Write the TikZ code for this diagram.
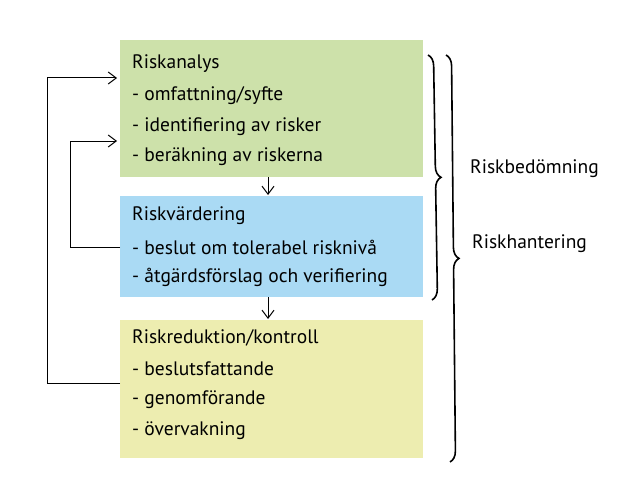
\documentclass[tikz,border=0pt]{standalone}
\usepackage{fontspec}
\setmainfont{PT Sans}
\usetikzlibrary{decorations.pathreplacing,arrows.meta}
\definecolor{cg}{RGB}{205,225,170}
\definecolor{cb}{RGB}{170,218,244}
\definecolor{cy}{RGB}{237,237,176}
\begin{document}
\begin{tikzpicture}[x=1pt,y=-1pt,
  box/.style={draw=none,anchor=north west,minimum width=303pt,inner sep=0},
  txt/.style={anchor=west,font=\fontsize{19.5}{22}\selectfont,inner sep=0},
  arr/.style={-{Straight Barb[length=8pt,width=12pt]},line width=1pt},
  br/.style={decorate,decoration={brace,amplitude=11pt,raise=0pt},line width=1.6pt}]
\useasboundingbox (0,0) rectangle (640,487);
\node[box,fill=cg,minimum height=137pt] (b1) at (120,40) {};
\node[box,fill=cb,minimum height=101pt] (b2) at (120,196) {};
\node[box,fill=cy,minimum height=138pt] (b3) at (120,320) {};
\node[txt] (t11) at (132,64) {Riskanalys};
\node[txt] (t12) at (132,96) {- omfattning/syfte};
\node[txt] (t13) at (132,127) {- identifiering av risker};
\node[txt] (t14) at (132,157) {- beräkning av riskerna};
\node[txt] (t21) at (132,216) {Riskvärdering};
\node[txt] (t22) at (132,247) {- beslut om tolerabel risknivå};
\node[txt] (t23) at (132,277) {- åtgärdsförslag och verifiering};
\node[txt] (t31) at (132,338) {Riskreduktion/kontroll};
\node[txt] (t32) at (132,369) {- beslutsfattande};
\node[txt] (t33) at (132,400) {- genomförande};
\node[txt] (t34) at (132,431) {- övervakning};
\draw[arr] (268,177) -- (268,195);
\draw[arr] (268,297) -- (268,319);
\coordinate (f1) at (120,383);
\coordinate (f2) at (120,247);
\draw[arr] (f1) -- (47,383) -- (47,78) -- (117,78);
\draw[arr] (f2) -- (70,247) -- (70,141) -- (117,141);
\draw[br] (428,55) -- (432,300);
\draw[br] (446,55) -- (450,462);
\node[txt] (rb) at (470,169) {Riskbedömning};
\node[txt] (rh) at (472,244) {Riskhantering};
\end{tikzpicture}
\end{document}
